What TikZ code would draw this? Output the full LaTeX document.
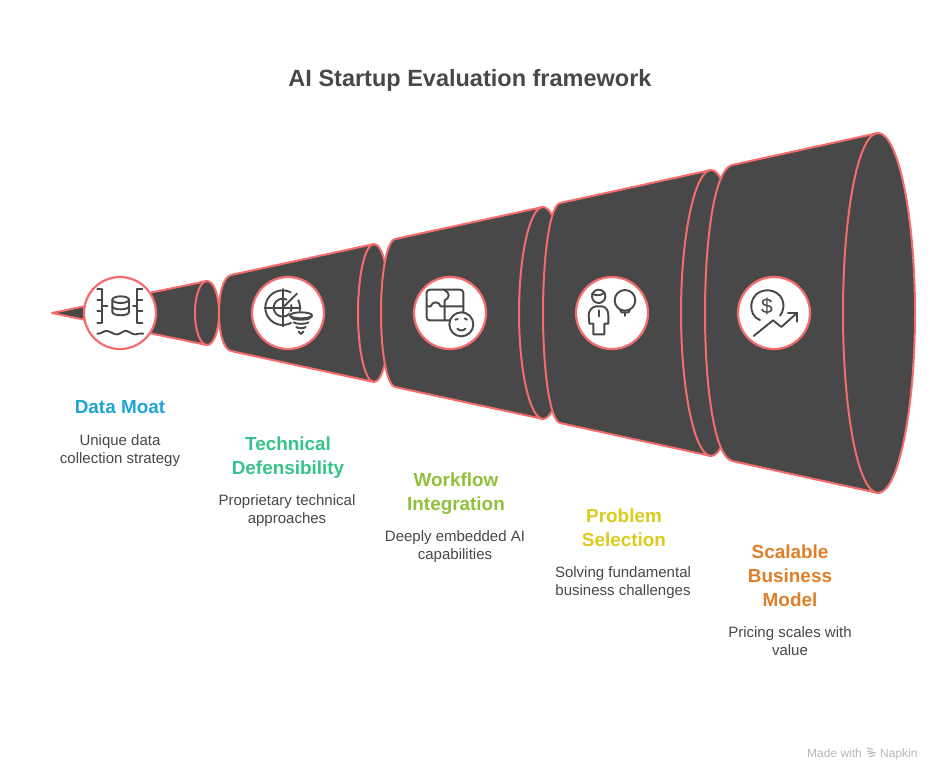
\documentclass[tikz,border=0pt]{standalone}
\usepackage{fontspec}
\setmainfont{Liberation Sans}
\definecolor{dark}{HTML}{484848}
\definecolor{edge}{HTML}{F56C6C}
\definecolor{cA}{HTML}{1EA5D8}
\definecolor{cB}{HTML}{36C48A}
\definecolor{cC}{HTML}{90C13A}
\definecolor{cD}{HTML}{DCCB1C}
\definecolor{cE}{HTML}{E07F2A}
\tikzset{
 cone/.style={fill=dark,draw=edge,line width=2pt,line join=round},
 rim/.style={draw=edge,line width=2pt},
 badge/.style={circle,fill=white,draw=edge,line width=2.2pt,minimum size=72pt,inner sep=0pt},
 ttl/.style={font=\fontsize{23.5}{28}\selectfont\bfseries,text=dark},
 head/.style={font=\fontsize{18.9}{24}\selectfont\bfseries,align=center,anchor=north},
 body/.style={font=\fontsize{15}{18}\selectfont,text=dark,align=center,anchor=north},
 icon/.style={x=0.3333pt,y=-0.3333pt,draw=dark,line width=1.9pt,line cap=round,line join=round},
 mark text/.style={font=\fontsize{12}{13}\selectfont,text=black!28,anchor=base west,inner sep=0pt},
}
\begin{document}
\begin{tikzpicture}[x=1pt,y=-1pt]
\useasboundingbox (0,0) rectangle (940,780);
\fill[white] (0,0) rectangle (940,780);
\node[ttl] (title) at (470,80) {AI Startup Evaluation framework};
% cones
\draw[cone] (52,313) -- (207,281) .. controls (214,281) and (219,296) .. (219,313) .. controls (219,330) and (214,345) .. (207,345) -- cycle;
\draw[rim] (207,281) .. controls (200,281) and (195,296) .. (195,313) .. controls (195,330) and (200,345) .. (207,345);
\draw[cone] (231,275) -- (374,244) .. controls (383,244) and (390,275) .. (390,313) .. controls (390,351) and (383,382) .. (374,382) -- (231,351) .. controls (223,349) and (219,332) .. (219,313) .. controls (219,294) and (223,277) .. (231,275) -- cycle;
\draw[rim] (374,244) .. controls (365,244) and (358,275) .. (358,313) .. controls (358,351) and (365,382) .. (374,382);
\draw[cone] (395,239) -- (543,207) .. controls (556,207) and (567,255) .. (567,313) .. controls (567,371) and (556,419) .. (543,419) -- (395,387) .. controls (386,384) and (381,350) .. (381,313) .. controls (381,276) and (386,242) .. (395,239) -- cycle;
\draw[rim] (543,207) .. controls (530,207) and (519,255) .. (519,313) .. controls (519,371) and (530,419) .. (543,419);
\draw[cone] (560,203) -- (711,170) .. controls (727,170) and (741,235) .. (741,313) .. controls (741,391) and (727,456) .. (711,456) -- (560,423) .. controls (549,420) and (543,365) .. (543,313) .. controls (543,261) and (549,206) .. (560,203) -- cycle;
\draw[rim] (711,170) .. controls (695,170) and (681,235) .. (681,313) .. controls (681,391) and (695,456) .. (711,456);
\draw[cone] (732,165) -- (878,133) .. controls (898,133) and (915,215) .. (915,313) .. controls (915,411) and (898,493) .. (878,493) -- (732,461) .. controls (714,456) and (705,385) .. (705,313) .. controls (705,241) and (714,170) .. (732,165) -- cycle;
\draw[rim] (878,133) .. controls (858,133) and (843,215) .. (843,313) .. controls (843,411) and (858,493) .. (878,493);
% badges
\node[badge] (b1) at (120,313) {};
\node[badge] (b2) at (288,313) {};
\node[badge] (b3) at (450,313) {};
\node[badge] (b4) at (612,313) {};
\node[badge] (b5) at (774,313) {};
% icon 1
\begin{scope}[shift={(84pt,-277pt)},icon]
\draw (40,37) -- (55,37) -- (55,137) -- (40,137);
\draw (40,68) -- (55,68) (40,102) -- (55,102) (55,87) -- (70,87);
\draw (175,37) -- (160,37) -- (160,137) -- (175,137);
\draw (160,68) -- (175,68) (160,102) -- (175,102) (160,87) -- (147,87);
\draw (110,68) ellipse [x radius=25,y radius=10];
\draw (85,68) -- (85,105) .. controls (85,118) and (135,118) .. (135,105) -- (135,68);
\draw (85,88) .. controls (85,100) and (135,100) .. (135,88);
\draw (40,170) .. controls (52,172) and (58,160) .. (70,162) .. controls (80,163) and (90,174) .. (100,172) .. controls (112,170) and (118,160) .. (128,162) .. controls (138,164) and (146,174) .. (156,172) .. controls (164,170) and (170,168) .. (178,170);
\end{scope}
% icon 2
\begin{scope}[shift={(252pt,-277pt)},icon]
\draw (92,92) circle [radius=52];
\draw (92,92) circle [radius=27];
\fill[white] (100,78) -- (125,35) -- (150,60) -- (108,88) -- cycle;
\draw (92,36) -- (92,148) (38,92) -- (146,92);
\draw (92,92) -- (135,50);
\fill[white] (112,104) -- (182,104) -- (182,124) -- (150,178) -- (142,178) -- (112,124) -- cycle;
\draw (147,115) ellipse [x radius=33,y radius=9];
\draw (114,117) .. controls (118,124) and (124,128) .. (147,128) .. controls (170,128) and (176,124) .. (180,117);
\draw (125,136) .. controls (130,142) and (164,142) .. (169,136);
\draw (133,150) .. controls (138,155) and (156,155) .. (161,150);
\draw (140,164) -- (147,171) -- (154,164);
\end{scope}
% icon 3
\begin{scope}[shift={(414pt,-277pt)},icon]
\draw[rounded corners=3pt] (38,38) rectangle (148,130);
\draw (38,88) -- (50,88) .. controls (55,72) and (75,72) .. (80,88) -- (148,88);
\draw (92,38) -- (92,40) .. controls (108,46) and (108,64) .. (92,70) -- (92,130);
\fill[white,draw=dark] (142,142) circle [radius=36];
\draw (124,128) -- (131,126) (152,124) -- (159,128);
\draw (130,155) .. controls (136,162) and (148,162) .. (154,155);
\end{scope}
% icon 4
\begin{scope}[shift={(576pt,-277pt)},icon]
\draw (68,58) circle [radius=20];
\draw (48,50) .. controls (62,58) and (76,56) .. (86,46);
\draw (60,88) -- (78,88) .. controls (90,90) and (97,100) .. (97,115) -- (97,140) -- (85,140) -- (85,172) -- (52,172) -- (52,140) -- (40,140) -- (38,115) .. controls (38,100) and (48,90) .. (60,88) -- cycle;
\draw (68,100) -- (68,118);
\draw (147,70) circle [radius=31];
\draw (132,97) -- (136,106) -- (158,106) -- (162,97);
\draw (147,106) -- (147,117);
\end{scope}
% icon 5
\begin{scope}[shift={(738pt,-277pt)},icon]
\draw (66,129) .. controls (28,118) and (28,42) .. (87,40) .. controls (135,40) and (148,88) .. (126,116);
\node[font=\fontsize{21}{21}\selectfont,text=dark,inner sep=0pt] (dollar) at (87,88) {\$};
\draw (47,177) -- (105,130) -- (130,150) -- (178,107);
\draw (150,107) -- (178,107) -- (178,134);
\end{scope}
% labels
\node[head,text=cA] (h1) at (120,397) {Data Moat};
\node[body] (t1) at (120,431) {Unique data\\collection strategy};
\node[head,text=cB] (h2) at (288,433) {Technical\\Defensibility};
\node[body] (t2) at (287,491) {Proprietary technical\\approaches};
\node[head,text=cC] (h3) at (456,469) {Workflow\\Integration};
\node[body] (t3) at (455,527) {Deeply embedded AI\\capabilities};
\node[head,text=cD] (h4) at (624,505) {Problem\\Selection};
\node[body] (t4) at (623,563) {Solving fundamental\\business challenges};
\node[head,text=cE] (h5) at (790,541) {Scalable\\Business\\Model};
\node[body] (t5) at (790,623) {Pricing scales with\\value};
% watermark
\node[mark text] (wm1) at (807,757) {Made with};
\node[mark text] (wm2) at (880,757) {Napkin};
\draw[black!28,line width=1pt] (867,748) -- (873,749.5) (867,751) -- (876,753) (868,754) -- (875,752.5) (869,757) -- (875,755);
\end{tikzpicture}
\end{document}
